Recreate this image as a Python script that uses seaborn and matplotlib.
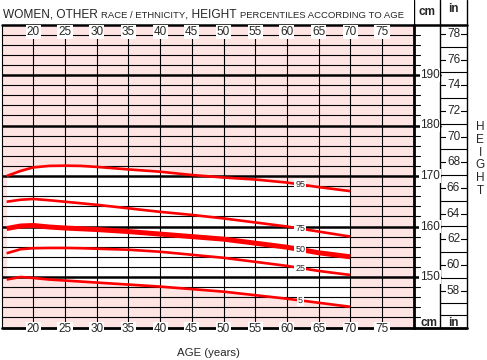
import numpy as np
import pandas as pd
import matplotlib
matplotlib.use("Agg")
import matplotlib.pyplot as plt
import seaborn as sns

# Percentile curves (cm)
ages = [15.8, 18, 20, 22.5, 25, 27.5, 30, 35, 40, 45, 50, 55, 60, 65, 70]
p95 = [170.0, 171.0, 171.7, 172.0, 172.05, 172.0, 171.8, 171.3, 170.85, 170.2, 169.7, 169.3, 168.7, 167.8, 167.0]
p75 = [164.9, 165.3, 165.45, 165.2, 164.9, 164.6, 164.3, 163.6, 162.9, 162.3, 161.6, 160.8, 160.0, 159.0, 158.0]
p50 = [159.6, 160.1, 160.2, 159.9, 159.7, 159.55, 159.4, 159.0, 158.5, 158.0, 157.5, 156.7, 155.9, 154.8, 154.0]
p25 = [154.7, 155.5, 155.7, 155.75, 155.75, 155.7, 155.6, 155.4, 155.0, 154.4, 153.8, 153.0, 152.2, 151.2, 150.4]
p5 = [149.5, 150.0, 149.8, 149.5, 149.3, 149.1, 148.9, 148.5, 148.1, 147.6, 147.1, 146.4, 145.7, 144.9, 144.1]
percentile_names = ["95", "75", "50", "25", "5"]
label_age = 62.1

age_ticks = list(range(20, 80, 5))
cm_labels = [150, 160, 170, 180, 190]
inch_labels = list(range(58, 80, 2))

pink = "#ffe4e4"

sns.set_theme(style="white")
plt.rcParams["font.family"] = ["Liberation Sans", "DejaVu Sans"]

W, H = 487, 360
fig = plt.figure(figsize=(W / 100, H / 100), dpi=100)
fig.patch.set_facecolor("white")

# main chart area, in pixel terms
x0, x1 = 1.6, 413.7
y_top, y_bot = 24.5, 327.5
px_per_cm = (y_bot - y_top) / 60
ax = fig.add_axes([x0 / W, 1 - y_bot / H, (x1 - x0) / W, (y_bot - y_top) / H])
ax.set_xlim(15, 80)
ax.set_ylim(140, 200)
ax.set_facecolor(pink)
for s in ax.spines.values():
    s.set_visible(False)
ax.set_xticks([])
ax.set_yticks([])

# white band between the 5th and 95th percentiles
ax.fill_between(ages, p5, p95, color="white", zorder=1, lw=0)

# grid
for h in range(142, 200, 2):
    ax.axhline(h, color="black", lw=1.8 if h % 10 == 0 else 0.8, zorder=2)
ax.axhline(200, color="black", lw=1.8, zorder=2, clip_on=False)
ax.axhline(140, color="black", lw=2.0, zorder=2, clip_on=False)
for a in age_ticks:
    ax.axvline(a, color="black", lw=0.8, zorder=2)
ax.axvline(15, color="black", lw=0.8, zorder=2, clip_on=False)
ax.axvline(80, color="black", lw=2.0, zorder=2, clip_on=False)

# percentile curves
curves = pd.DataFrame({"age": ages, "95": p95, "75": p75, "50": p50, "25": p25, "5": p5})
long = curves.melt(id_vars="age", var_name="percentile", value_name="height")
sns.lineplot(data=long, x="age", y="height", hue="percentile", size="percentile",
             palette={p: "#ff0000" for p in percentile_names},
             sizes={"95": 1.9, "75": 1.9, "50": 3.6, "25": 1.9, "5": 1.9},
             legend=False, ax=ax, zorder=4, solid_capstyle="butt")
ax.set_xlabel("")
ax.set_ylabel("")

for name in percentile_names:
    yv = np.interp(label_age, ages, curves[name])
    ax.text(label_age, yv, name, ha="center", va="center", fontsize=6.5, zorder=5,
            bbox=dict(boxstyle="square,pad=0.12", fc="white", ec="none"))

# age labels, top and bottom
for a in age_ticks:
    for yy in (198.6, 139.7):
        ax.text(a, yy, str(a), ha="center", va="center", fontsize=8.5, zorder=6, clip_on=False,
                bbox=dict(boxstyle="square,pad=0.08", fc="white", ec="none"))

# cm / in columns at the right
ax2 = fig.add_axes([x1 / W, 1 - y_bot / H, (W - x1) / W, y_bot / H])
ax2.set_xlim(x1, W)
ax2.set_ylim(140, 200 + y_top / px_per_cm)
ax2.axis("off")
ax2.patch.set_alpha(0)

for h in range(142, 200, 2):
    if h % 10 == 0:
        ax2.plot([x1, 440], [h, h], color="black", lw=1.8)
    else:
        ax2.plot([x1, 420], [h, h], color="black", lw=0.8)
for c in cm_labels:
    ax2.text(430, c, str(c), ha="center", va="center", fontsize=8.5, zorder=5,
             bbox=dict(boxstyle="square,pad=0.05", fc="white", ec="none"))

for inch in range(57, 79, 2):
    ax2.plot([440, 467], [inch * 2.54] * 2, color="black", lw=0.8)
for inch in inch_labels:
    ax2.plot([440, 467], [inch * 2.54] * 2, color="black", lw=0.8)
    ax2.text(453.5, inch * 2.54, str(inch), ha="center", va="center", fontsize=8.5, zorder=5,
             bbox=dict(boxstyle="square,pad=0.1", fc="white", ec="none"))
ax2.plot([440, 467], [142.5, 142.5], color="black", lw=0.8)

top = 200 + y_top / px_per_cm
for xv in (440, 467):
    ax2.plot([xv, xv], [140, top], color="black", lw=1.0, clip_on=False)
ax2.plot([x1, 467], [200, 200], color="black", lw=1.8)
ax2.plot([x1, 467], [140, 140], color="black", lw=2.0, clip_on=False)
ax2.plot([x1, x1], [200, top], color="black", lw=1.0)

ax2.text(427, 200 + (y_top - 15) / px_per_cm, "cm", ha="center", va="baseline", fontsize=8.5, fontweight="bold")
ax2.text(453.5, 200 + (y_top - 12) / px_per_cm, "in", ha="center", va="baseline", fontsize=8.5, fontweight="bold")
ax2.text(429, 200 - (326.5 - y_top) / px_per_cm, "cm", ha="center", va="baseline", fontsize=8.5, fontweight="bold")
ax2.text(453.5, 200 - (326.5 - y_top) / px_per_cm, "in", ha="center", va="baseline", fontsize=8.5, fontweight="bold")

fig.text(480 / W, 1 - 159 / H, "H\nE\nI\nG\nH\nT", ha="center", va="center", fontsize=8.5,
         linespacing=1.08, multialignment="center")

# title with small caps pieces
t = fig.text(3 / W, 1 - 17.5 / H, "WOMEN, OTHER", fontsize=8.6, va="baseline", ha="left")
for txt, fs, gap in [("RACE / ETHNICITY", 6.8, 2.2), (", HEIGHT", 8.6, 0.2),
                     ("PERCENTILES ACCORDING TO AGE", 6.8, 2.4)]:
    t = ax.annotate(txt, xy=(1, 0), xycoords=t, xytext=(gap, 0), textcoords="offset points",
                    fontsize=fs, va="bottom", ha="left")

fig.text(208.5 / W, 1 - 352.5 / H, "AGE (years)", ha="center", va="center", fontsize=8.2)

fig.savefig("out.png", dpi=100)
